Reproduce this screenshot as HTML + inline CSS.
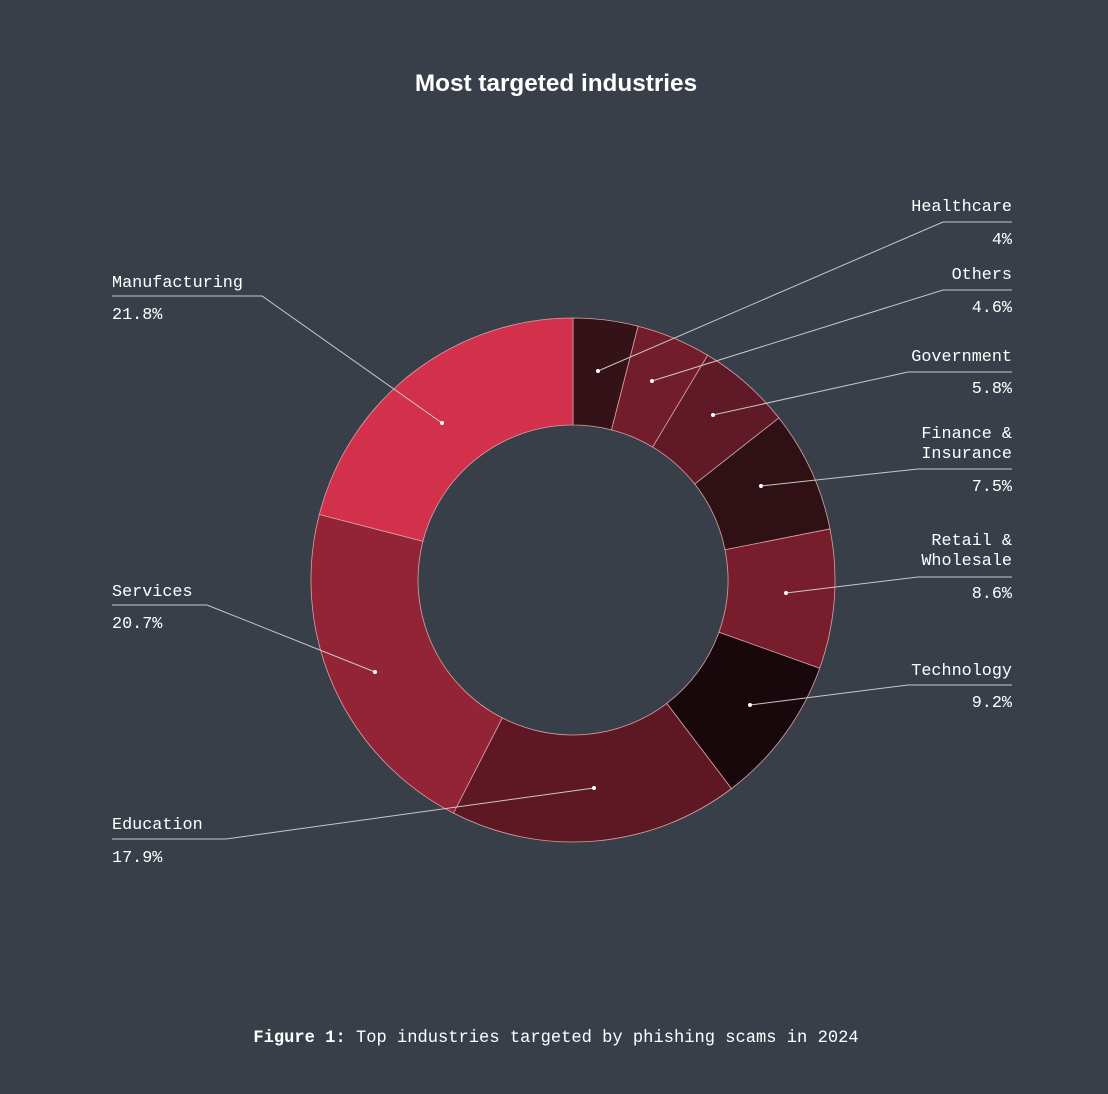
<!DOCTYPE html>
<html><head><meta charset="utf-8"><style>
html,body{margin:0;padding:0;background:#393f49;}
svg{display:block}
.m{font-family:"Liberation Mono",monospace;font-size:16.8px;fill:#fff}
</style></head><body>
<svg id="s" width="1108" height="1094" viewBox="0 0 1108 1094" xmlns="http://www.w3.org/2000/svg">
<rect width="1108" height="1094" fill="#393f49"/>
<text x="556" y="91" text-anchor="middle" font-family="Liberation Sans,sans-serif" font-weight="bold" font-size="24.3" fill="#fff">Most targeted industries</text>
<g id="arcs"></g>
<g stroke="#c8c8c8" stroke-width="1" fill="none">
<polyline points="598,371 943,222 1012,222"/>
<polyline points="652,381 943,290 1012,290"/>
<polyline points="713,415 908,372 1012,372"/>
<polyline points="761,486 918,469 1012,469"/>
<polyline points="786,593 918,577 1012,577"/>
<polyline points="750,705 908,685 1012,685"/>
<polyline points="442,423 262,296 112,296"/>
<polyline points="375,672 207,605 112,605"/>
<polyline points="594,788 226,839 112,839"/>
</g>
<g fill="#fff">
<circle cx="598" cy="371" r="2"/><circle cx="652" cy="381" r="2"/><circle cx="713" cy="415" r="2"/>
<circle cx="761" cy="486" r="2"/><circle cx="786" cy="593" r="2"/><circle cx="750" cy="705" r="2"/>
<circle cx="442" cy="423" r="2"/><circle cx="375" cy="672" r="2"/><circle cx="594" cy="788" r="2"/>
</g>
<g class="m" text-anchor="end">
<text x="1012" y="211">Healthcare</text><text x="1012" y="244">4%</text>
<text x="1012" y="279">Others</text><text x="1012" y="312">4.6%</text>
<text x="1012" y="361">Government</text><text x="1012" y="393">5.8%</text>
<text x="1012" y="438">Finance &amp;</text><text x="1012" y="458">Insurance</text><text x="1012" y="491">7.5%</text>
<text x="1012" y="545">Retail &amp;</text><text x="1012" y="565">Wholesale</text><text x="1012" y="598">8.6%</text>
<text x="1012" y="675">Technology</text><text x="1012" y="707">9.2%</text>
</g>
<g class="m">
<text x="112" y="287">Manufacturing</text><text x="112" y="319">21.8%</text>
<text x="112" y="596">Services</text><text x="112" y="628">20.7%</text>
<text x="112" y="829">Education</text><text x="112" y="862">17.9%</text>
</g>
<text x="556" y="1042" text-anchor="middle" class="m" style="font-size:17.1px"><tspan font-weight="bold">Figure 1:</tspan> Top industries targeted by phishing scams in 2024</text>
</svg>
<script>
var d=[[4,"#341217"],[4.6,"#721d2b"],[5.8,"#5f1927"],[7.5,"#2f1015"],[8.6,"#781d2b"],[9.2,"#18080c"],[17.9,"#5e1824"],[21.5,"#922435"],[21.0,"#d3304c"]];
var cx=573,cy=580,R=262,r=155,a=0,h="",tot=100.1;
function p(rad,ang){return [cx+rad*Math.sin(ang),cy-rad*Math.cos(ang)];}
d.forEach(function(s){var a0=a*2*Math.PI/tot;a+=s[0];var a1=a*2*Math.PI/tot;var l=(a1-a0)>Math.PI?1:0;
var A=p(R,a0),B=p(R,a1),C=p(r,a1),D=p(r,a0);
h+='<path d="M'+A+' A'+R+','+R+' 0 '+l+' 1 '+B+' L'+C+' A'+r+','+r+' 0 '+l+' 0 '+D+'Z" fill="'+s[1]+'" stroke="#d9a0a8" stroke-width="0.8"/>';});
document.getElementById("arcs").innerHTML=h;
</script>
</body></html>
